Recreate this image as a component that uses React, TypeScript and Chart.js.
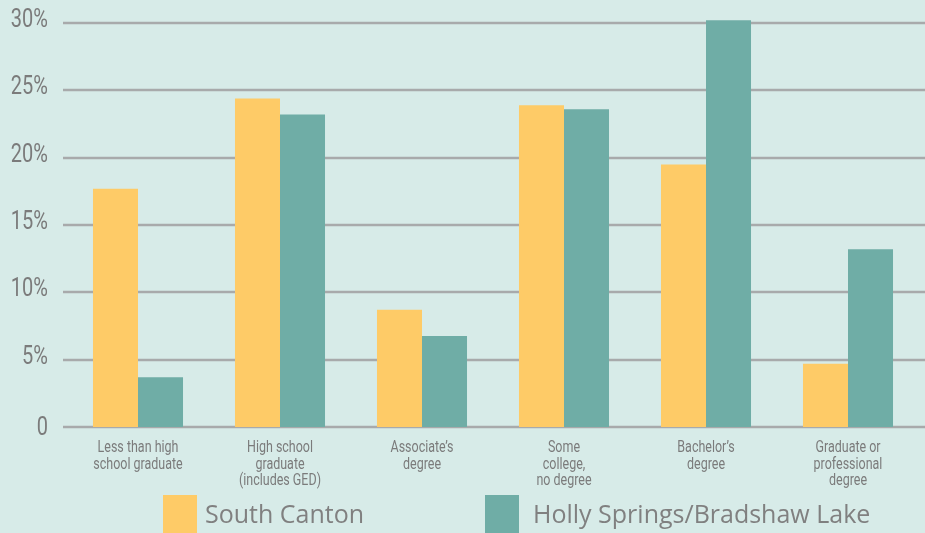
import React, { useEffect, useRef } from "react";
import { Chart, registerables } from "chart.js";

Chart.register(...registerables);

const categories: string[][] = [
  ["Less than high", "school graduate"],
  ["High school", "graduate", "(includes GED)"],
  ["Associate’s", "degree"],
  ["Some", "college,", "no degree"],
  ["Bachelor’s", "degree"],
  ["Graduate or", "professional", "degree"],
];
const southCanton = [17.7, 24.4, 8.7, 23.9, 19.5, 4.7];
const hollySprings = [3.7, 23.2, 6.75, 23.6, 30.2, 13.2];
const seriesNames = ["South Canton", "Holly Springs/Bradshaw Lake"];
const yTicks = [0, 5, 10, 15, 20, 25, 30];
const yTickLabels = ["0", "5%", "10%", "15%", "20%", "25%", "30%"];

const BG = "#d7ebe8";
const YELLOW = "#fecb67";
const TEAL = "#6fada6";
const GRID = "#a8aaab";
const TEXT = "#7b7b7b";

export default function App() {
  const ref = useRef<HTMLCanvasElement | null>(null);
  useEffect(() => {
    document.body.style.margin = "0";
    const canvas = ref.current!;
    const plugin = {
      id: "custom",
      beforeDraw(chart: any) {
        const ctx = chart.ctx;
        ctx.save();
        ctx.fillStyle = BG;
        ctx.fillRect(0, 0, chart.width, chart.height);
        ctx.restore();
      },
      beforeDatasetsDraw(chart: any) {
        const ctx = chart.ctx;
        const y = chart.scales.y;
        const x = chart.scales.x;
        ctx.save();
        ctx.strokeStyle = GRID;
        ctx.lineWidth = 2.6;
        yTicks.forEach((v) => {
          const py = Math.round(y.getPixelForValue(v));
          ctx.beginPath();
          ctx.moveTo(63, py);
          ctx.lineTo(chart.width, py);
          ctx.stroke();
        });
        // y tick labels (condensed)
        ctx.fillStyle = TEXT;
        ctx.font = "26px Roboto, sans-serif";
        ctx.textAlign = "right";
        ctx.textBaseline = "alphabetic";
        yTicks.forEach((v, i) => {
          const py = y.getPixelForValue(v);
          ctx.save();
          ctx.translate(48, py + (v === 0 ? 7.5 : 4));
          ctx.scale(0.77, 1);
          ctx.fillText(yTickLabels[i], 0, 0);
          ctx.restore();
        });
        // x labels
        ctx.font = "16px Roboto, sans-serif";
        ctx.textAlign = "center";
        (chart.data.labels as string[][]).forEach((lines, i) => {
          const px = x.getPixelForValue(i);
          lines.forEach((line, j) => {
            ctx.save();
            ctx.translate(px, 452 + j * 16.6);
            ctx.scale(0.78, 1);
            ctx.fillText(line, 0, 0);
            ctx.restore();
          });
        });
        ctx.restore();
      },
      afterDraw(chart: any) {
        const ctx = chart.ctx;
        const xs = [163, 485];
        const tx = [205, 533];
        ctx.save();
        chart.data.datasets.forEach((ds: any, i: number) => {
          ctx.fillStyle = ds.backgroundColor;
          ctx.fillRect(xs[i], 495, 34, 40);
          ctx.fillStyle = "#808080";
          ctx.font = "25px 'Open Sans', sans-serif";
          ctx.textAlign = "left";
          ctx.textBaseline = "alphabetic";
          ctx.fillText(ds.label, tx[i], 523);
        });
        ctx.restore();
      },
    };
    const chart = new Chart(canvas, {
      type: "bar",
      data: {
        labels: categories as any,
        datasets: [
          { label: seriesNames[0], data: southCanton, backgroundColor: YELLOW, clip: false as any },
          { label: seriesNames[1], data: hollySprings, backgroundColor: TEAL, clip: false as any },
        ],
      },
      options: {
        animation: false,
        responsive: true,
        maintainAspectRatio: false,
        layout: { padding: { top: 23, right: 6, left: 0, bottom: 0 } },
        datasets: { bar: { barPercentage: 1, categoryPercentage: 0.634 } },
        plugins: { legend: { display: false }, tooltip: { enabled: false } },
        scales: {
          x: {
            grid: { display: false },
            border: { display: false },
            ticks: { display: false },
            afterFit(scale: any) {
              scale.height = 106;
            },
          },
          y: {
            min: 0,
            max: 30,
            grid: { display: false },
            border: { display: false },
            ticks: { display: false, stepSize: 5 },
            afterFit(scale: any) {
              scale.width = 67;
            },
          },
        },
      },
      plugins: [plugin],
    });
    return () => chart.destroy();
  }, []);
  return (
    <div style={{ width: 925, height: 533, position: "relative" }}>
      <canvas ref={ref} />
    </div>
  );
}
